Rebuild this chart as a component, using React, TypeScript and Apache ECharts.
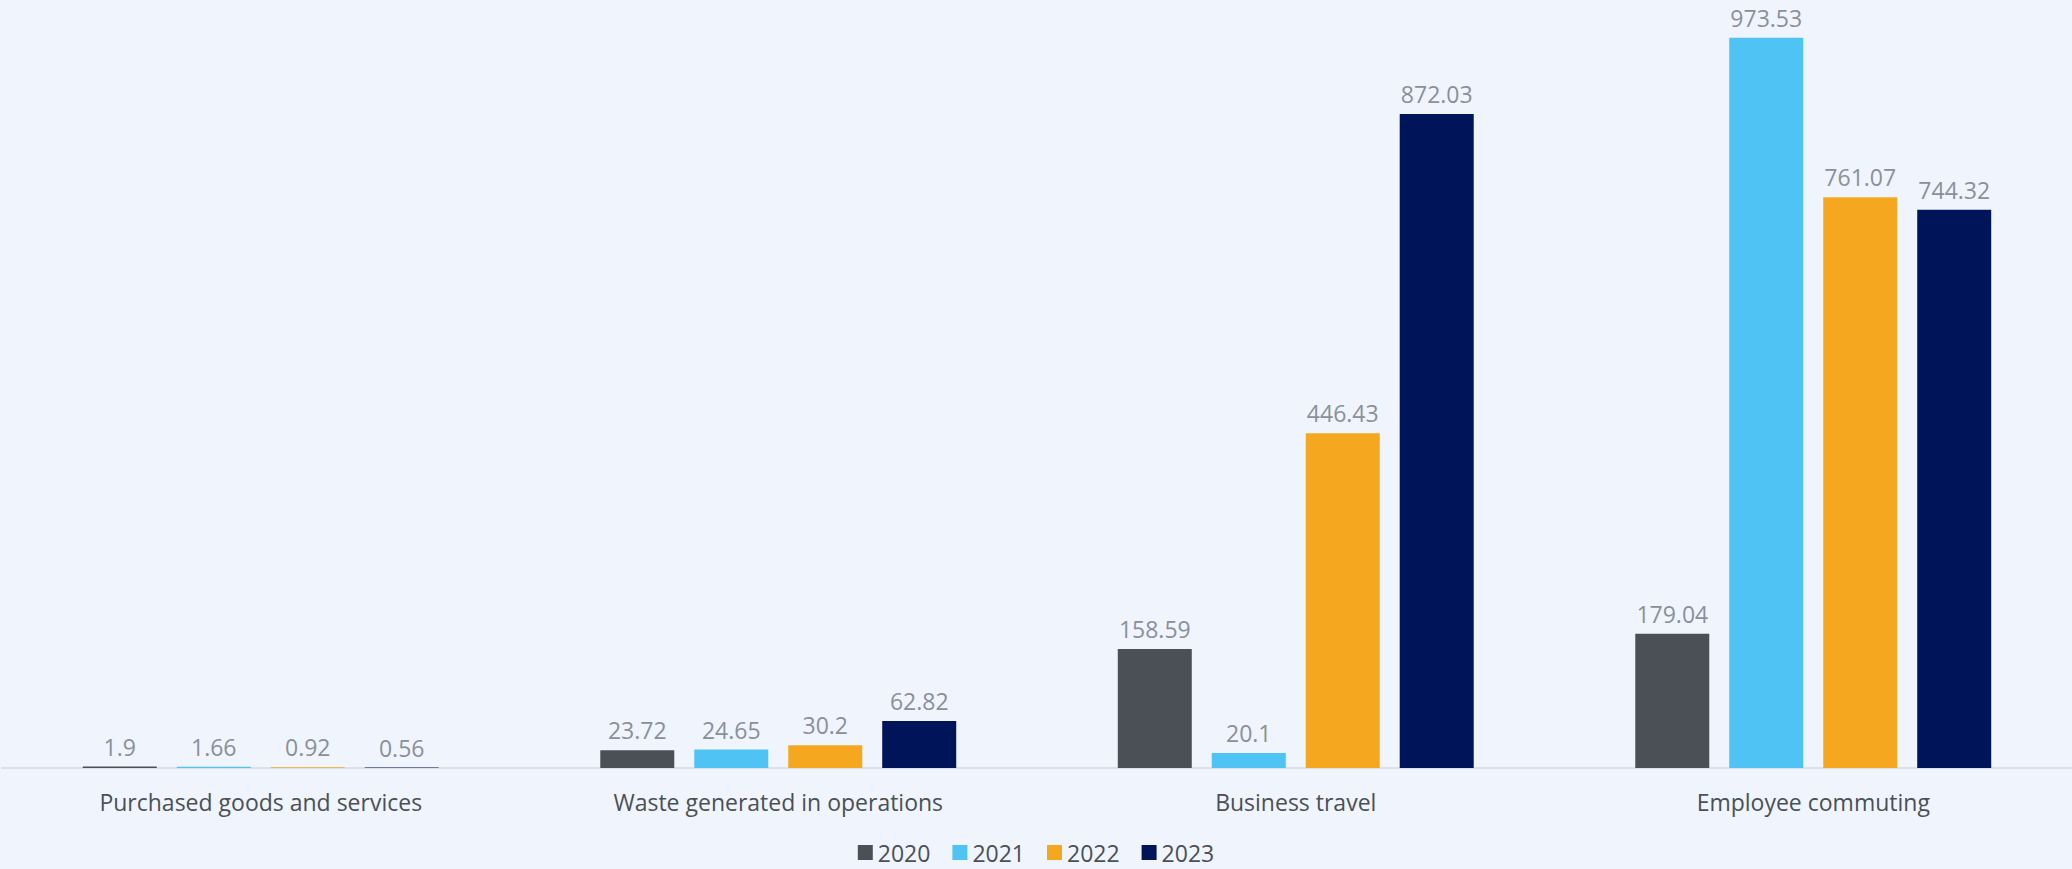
import React, { useEffect, useRef } from "react";
import * as echarts from "echarts";

const categories = [
  "Purchased goods and services",
  "Waste generated in operations",
  "Business travel",
  "Employee commuting",
];
const years = ["2020", "2021", "2022", "2023"];
const values2020 = [1.9, 23.72, 158.59, 179.04];
const values2021 = [1.66, 24.65, 20.1, 973.53];
const values2022 = [0.92, 30.2, 446.43, 761.07];
const values2023 = [0.56, 62.82, 872.03, 744.32];
const colors = ["#4a5055", "#4fc3f4", "#f5a81f", "#00145a"];

const FONT = "'Open Sans', 'Noto Sans', sans-serif";

export default function App() {
  const ref = useRef<HTMLDivElement>(null);
  useEffect(() => {
    document.body.style.margin = "0";
    const chart = echarts.init(ref.current!, undefined, { renderer: "svg" });
    const seriesData = [values2020, values2021, values2022, values2023];
    chart.setOption({
      animation: false,
      backgroundColor: "#f0f5fd",
      textStyle: { fontFamily: FONT },
      legend: {
        bottom: 0,
        left: "center",
        itemWidth: 15,
        itemHeight: 15,
        itemGap: 22,
        icon: "rect",
        textStyle: { color: "#4a5055", fontSize: 23, lineHeight: 22, fontFamily: FONT },
        data: years,
      },
      grid: { left: 2, right: 0, top: 18, bottom: 101, containLabel: false },
      xAxis: {
        type: "category",
        data: categories,
        axisLine: { lineStyle: { color: "#dde1e6", width: 2 } },
        axisTick: { show: false },
        axisLabel: { color: "#4a5055", fontSize: 23, margin: 22, fontFamily: FONT },
      },
      yAxis: {
        type: "value",
        min: 0,
        max: 1000,
        show: false,
        splitLine: { show: false },
      },
      series: years.map((y, i) => ({
        name: y,
        type: "bar",
        data: seriesData[i],
        barWidth: 74,
        barGap: "27%",
        itemStyle: { color: colors[i] },
        label: {
          show: true,
          position: "top",
          distance: 10,
          color: "#8a9099",
          fontSize: 23,
          lineHeight: 20,
          fontFamily: FONT,
        },
      })),
    });
    return () => chart.dispose();
  }, []);
  return <div ref={ref} style={{ width: 2072, height: 869 }} />;
}
